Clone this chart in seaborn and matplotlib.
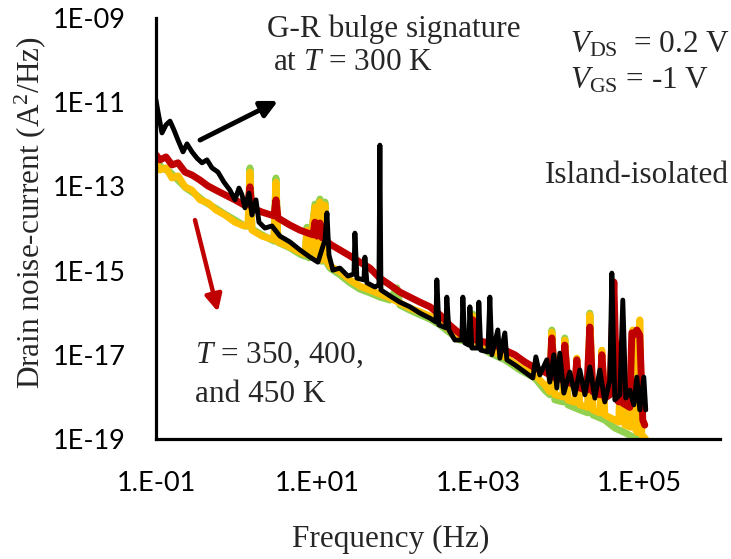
import numpy as np
import pandas as pd
import matplotlib
matplotlib.use("Agg")
import matplotlib.pyplot as plt
import seaborn as sns

# ---------------- data (log10 values) ----------------
black_logf = [-1.000,-0.975,-0.926,-0.876,-0.826,-0.777,-0.727,-0.665,-0.615,-0.553,
              -0.491,-0.429,-0.367,-0.305,-0.231,-0.156,-0.082,-0.020,0.030,0.067,
              0.104,0.154,0.191,0.241,0.278,0.352,0.439,0.538,0.663,0.787,
              0.911,1.010,1.097,1.122,1.147,1.196,1.283,1.382,1.457,1.469,
              1.494,1.581,1.593,1.618,1.717,1.767,1.779,1.792,1.903,2.027,
              2.151,2.276,2.400,2.474,2.486,2.511,2.598,2.610,2.635,2.709,
              2.796,2.809,2.834,2.883,2.896,2.921,2.995,3.007,3.032,3.119,
              3.144,3.169,3.243,3.268,3.330,3.355,3.454,3.578,3.677,3.715,
              3.764,3.851,3.888,3.938,3.975,4.012,4.062,4.136,4.199,4.261,
              4.323,4.385,4.447,4.509,4.571,4.633,4.658,4.695,4.757,4.794,
              4.831,4.881,4.931,4.968,5.005,5.055,5.079]
black_logS = [-10.95,-11.23,-11.73,-11.54,-11.45,-11.66,-11.90,-12.18,-11.99,-12.18,
              -12.33,-12.44,-12.37,-12.56,-12.66,-12.90,-13.09,-13.32,-13.04,-13.20,
              -13.51,-13.16,-13.68,-13.32,-13.85,-13.99,-13.94,-14.18,-14.32,-14.51,
              -14.68,-14.80,-14.27,-13.63,-14.63,-14.99,-14.94,-15.13,-15.08,-14.11,
              -15.18,-15.22,-14.68,-15.29,-15.39,-15.34,-12.02,-15.46,-15.60,-15.75,
              -15.86,-16.01,-16.13,-16.22,-15.22,-16.29,-16.36,-15.63,-16.41,-16.65,
              -16.65,-15.63,-16.72,-16.77,-15.86,-16.84,-16.84,-15.75,-16.89,-16.93,
              -15.63,-17.00,-16.41,-17.08,-16.48,-17.12,-17.24,-17.41,-17.55,-17.05,
              -17.48,-17.12,-17.65,-17.00,-17.79,-16.96,-17.91,-17.41,-17.95,-17.36,
              -17.95,-17.29,-18.03,-17.36,-18.12,-17.60,-15.06,-18.07,-17.95,-15.70,
              -18.03,-17.84,-18.19,-17.53,-18.31,-17.53,-18.31]

red_logf = [-1.000,-0.950,-0.876,-0.802,-0.727,-0.640,-0.553,-0.454,-0.355,-0.256,
            -0.144,-0.020,0.092,0.141,0.166,0.191,0.315,0.464,0.489,0.514,
            0.663,0.787,0.874,0.949,0.973,0.998,1.035,1.060,1.097,1.122,
            1.159,1.283,1.407,1.531,1.655,1.779,1.903,2.027,2.151,2.276,
            2.400,2.524,2.648,2.772,2.908,2.933,2.970,3.082,3.206,3.330,
            3.454,3.578,3.702,3.826,3.888,3.913,3.950,4.050,4.074,4.112,
            4.199,4.223,4.261,4.348,4.385,4.422,4.509,4.534,4.571,4.633,
            4.683,4.720,4.745,4.770,4.794,4.881,4.906,4.931,4.968,5.005,
            5.042,5.067]
red_logS = [-12.25,-12.37,-12.30,-12.49,-12.44,-12.66,-12.73,-12.85,-12.99,-13.09,
            -13.20,-13.32,-13.44,-13.42,-13.01,-13.51,-13.61,-13.70,-13.32,-13.75,
            -13.92,-14.04,-14.10,-14.15,-13.85,-14.18,-13.87,-14.22,-13.96,-14.30,
            -14.37,-14.51,-14.65,-14.80,-14.94,-15.18,-15.34,-15.51,-15.63,-15.75,
            -15.86,-16.05,-16.30,-16.50,-16.58,-16.17,-16.65,-16.70,-16.77,-16.89,
            -17.00,-17.17,-17.31,-17.41,-17.48,-16.60,-17.55,-17.60,-16.77,-17.65,
            -17.72,-17.12,-17.79,-17.84,-16.34,-17.88,-17.95,-17.00,-18.03,-17.95,
            -15.27,-18.07,-18.12,-16.77,-18.15,-18.25,-16.48,-16.53,-16.41,-16.53,
            -18.55,-18.67]

gold_logf = [-1.000,-0.950,-0.876,-0.802,-0.727,-0.640,-0.553,-0.454,-0.355,-0.256,
             -0.144,-0.020,0.092,0.141,0.166,0.191,0.315,0.464,0.489,0.514,
             0.663,0.787,0.849,0.874,0.898,0.973,0.998,1.035,1.060,1.097,
             1.122,1.159,1.283,1.407,1.531,1.655,1.779,1.903,2.027,2.151,
             2.276,2.400,2.524,2.648,2.772,2.908,2.933,2.970,3.144,3.330,
             3.516,3.702,3.826,3.888,3.913,3.950,4.050,4.074,4.112,4.198,
             4.223,4.261,4.360,4.385,4.422,4.509,4.534,4.571,4.695,4.745,
             4.770,4.819,4.893,4.918,4.955,4.980,5.005,5.030,5.079]
gold_logS = [-12.44,-12.61,-12.56,-12.80,-12.75,-13.01,-13.09,-13.32,-13.39,-13.56,
             -13.68,-13.85,-13.94,-13.94,-12.66,-14.04,-14.18,-14.27,-12.90,-14.32,
             -14.44,-14.56,-14.61,-14.04,-14.63,-13.49,-14.68,-13.37,-14.75,-13.44,
             -14.78,-14.89,-15.03,-15.22,-15.37,-15.46,-15.56,-15.65,-15.77,-15.89,
             -15.98,-16.08,-16.22,-16.41,-16.58,-16.62,-16.08,-16.70,-16.89,-17.05,
             -17.29,-17.48,-17.72,-17.88,-16.46,-17.95,-18.00,-16.65,-18.07,-18.13,
             -17.08,-18.19,-18.25,-16.05,-18.31,-18.38,-16.89,-18.43,-18.55,-18.60,
             -16.72,-18.67,-18.72,-16.41,-18.79,-18.85,-16.17,-18.90,-19.00]

green_logf = [-1.000,-0.926,-0.826,-0.727,-0.628,-0.516,-0.392,-0.268,-0.144,-0.020,
              0.104,0.154,0.166,0.191,0.315,0.464,0.489,0.514,0.663,0.787,
              0.849,0.874,0.898,0.973,0.998,1.035,1.060,1.097,1.122,1.159,
              1.283,1.407,1.531,1.655,1.779,1.903,1.990,2.027,2.151,2.276,
              2.400,2.524,2.648,2.772,2.908,2.933,2.970,3.144,3.330,3.516,
              3.702,3.826,3.888,3.913,3.950,4.050,4.074,4.112,4.261,4.360,
              4.385,4.422,4.571,4.695,4.831,4.918,5.005]
green_logS = [-12.37,-12.56,-12.66,-12.85,-13.04,-13.18,-13.37,-13.51,-13.66,-13.80,
              -13.94,-13.94,-12.56,-14.01,-14.15,-14.30,-12.80,-14.33,-14.46,-14.61,
              -14.66,-13.97,-14.70,-13.42,-14.73,-13.30,-14.78,-13.37,-14.82,-14.94,
              -15.10,-15.29,-15.44,-15.53,-15.63,-15.70,-15.41,-15.82,-15.94,-16.05,
              -16.15,-16.29,-16.48,-16.65,-16.70,-16.03,-16.75,-16.96,-17.12,-17.36,
              -17.55,-17.84,-17.95,-16.41,-18.07,-18.12,-16.60,-18.19,-18.31,-18.38,
              -16.01,-18.43,-18.55,-18.74,-18.86,-18.95,-19.00]

temps = ["450 K", "400 K", "350 K", "300 K"]
colors = {"450 K": "#92D050", "400 K": "#FFC000", "350 K": "#C00000", "300 K": "#000000"}
widths = {"450 K": 5.0, "400 K": 5.0, "350 K": 5.0, "300 K": 3.5}

x_tick_vals = [1e-1, 1e1, 1e3, 1e5]
x_tick_labels = ["1.E-01", "1.E+01", "1.E+03", "1.E+05"]
y_tick_vals = [1e-19, 1e-17, 1e-15, 1e-13, 1e-11, 1e-9]
y_tick_labels = ["1E-19", "1E-17", "1E-15", "1E-13", "1E-11", "1E-09"]

series = {"450 K": (green_logf, green_logS), "400 K": (gold_logf, gold_logS),
          "350 K": (red_logf, red_logS), "300 K": (black_logf, black_logS)}
frames = []
for t in temps:
    lf, ls = series[t]
    frames.append(pd.DataFrame({"freq": 10.0 ** np.array(lf),
                                "noise": 10.0 ** np.array(ls),
                                "temp": t}))
df = pd.concat(frames, ignore_index=True)

# ---------------- style ----------------
sns.set_style("white")
plt.rcParams["font.family"] = ["Liberation Serif", "DejaVu Serif"]
plt.rcParams["mathtext.fontset"] = "custom"
plt.rcParams["mathtext.rm"] = "Liberation Serif"
plt.rcParams["mathtext.it"] = "Liberation Serif:italic"

fig = plt.figure(figsize=(7.31, 5.59), dpi=100)
ax = fig.add_axes([0.2134, 0.2147, 0.7715, 0.7531])
ax.set_xscale("log")
ax.set_yscale("log")

for t in temps:
    sub = df[df["temp"] == t]
    sns.lineplot(data=sub, x="freq", y="noise", color=colors[t], lw=widths[t],
                 sort=False, estimator=None, legend=False, ax=ax,
                 solid_joinstyle="round", solid_capstyle="round")

ax.set_xlim(1e-1, 1e6)
ax.set_ylim(1e-19, 1e-9)
ax.set_xticks(x_tick_vals)
ax.set_xticklabels(x_tick_labels, fontfamily="Lato", fontsize=19.5)
ax.set_yticks(y_tick_vals)
ax.set_yticklabels(y_tick_labels, fontfamily="Lato", fontsize=19.5)
ax.minorticks_off()
ax.tick_params(axis="x", direction="in", length=6, width=2, pad=23, colors="black")
ax.tick_params(axis="y", direction="out", length=6, width=2, pad=16, colors="black")

for side in ["top", "right"]:
    ax.spines[side].set_visible(False)
for side in ["left", "bottom"]:
    ax.spines[side].set_linewidth(2.3)
    ax.spines[side].set_color("black")

ax.set_xlabel("Frequency (Hz)", fontsize=22.5)
ax.xaxis.set_label_coords(0.4167, -0.2565)
ax.xaxis.label.set_verticalalignment("baseline")
ax.set_ylabel("Drain noise-current (A$^2$/Hz)", fontsize=22.5)
ax.yaxis.set_label_coords(-0.2234, 0.537)
ax.yaxis.label.set_verticalalignment("center")
ax.yaxis.label.set_horizontalalignment("center")

fs = 22.5
tr = ax.transAxes
ax.text(0.1968, 0.9549, "G-R bulge signature", transform=tr, fontsize=fs, va="baseline")
ax.text(0.2074, 0.8765, "at $T$ = 300 K", transform=tr, fontsize=fs, va="baseline")
ax.text(0.734, 0.919, r"$V_{\mathrm{DS}}$  = 0.2 V", transform=tr, fontsize=fs, va="baseline")
ax.text(0.734, 0.8337, r"$V_{\mathrm{GS}}$ = -1 V", transform=tr, fontsize=fs, va="baseline")
ax.text(0.6897, 0.608, "Island-isolated", transform=tr, fontsize=fs, va="baseline")
ax.text(0.0691, 0.1805, "$T$ = 350, 400,", transform=tr, fontsize=fs, va="baseline")
ax.text(0.0691, 0.0879, "and 450 K", transform=tr, fontsize=fs, va="baseline")

ax.annotate("", xy=(10 ** 0.514, 10 ** -10.97), xytext=(10 ** -0.454, 10 ** -11.90),
            arrowprops=dict(arrowstyle="-|>,head_length=1.0,head_width=0.5",
                            color="black", lw=3.5, shrinkA=0, shrinkB=0))
ax.annotate("", xy=(10 ** -0.231, 10 ** -15.98), xytext=(10 ** -0.516, 10 ** -13.80),
            arrowprops=dict(arrowstyle="-|>,head_length=1.0,head_width=0.5",
                            color="#C00000", lw=3.2, shrinkA=0, shrinkB=0))

fig.savefig("out.png", dpi=100)
